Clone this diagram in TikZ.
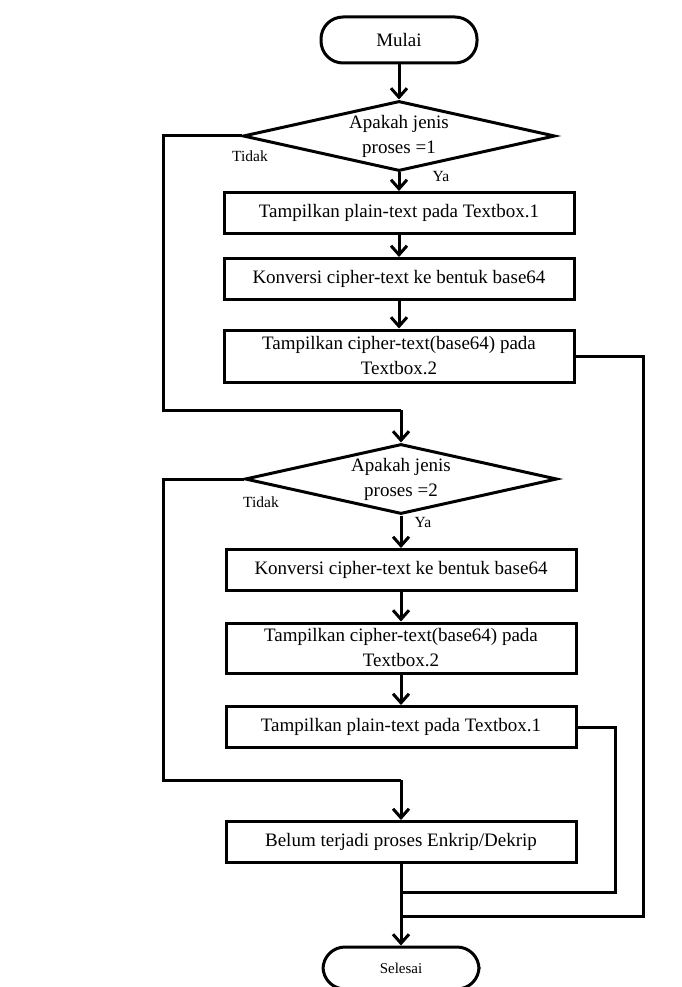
\documentclass[tikz,border=0pt]{standalone}
\usepackage{fontspec}
\setmainfont{Liberation Serif}
\usetikzlibrary{arrows.meta,shapes.geometric}
\begin{document}
\begin{tikzpicture}[x=1pt,y=-1pt,
  line width=3pt,
  arr/.style={-{Straight Barb[length=9pt,width=16pt,line width=3pt]}},
  term/.style={draw,rounded corners=22pt,minimum width=156pt,minimum height=46pt,font=\fontsize{19}{21}\selectfont,inner sep=0pt},
  proc/.style={draw,minimum width=350pt,minimum height=41pt,align=center,font=\fontsize{19}{25}\selectfont,inner sep=2pt},
  dec/.style={draw,diamond,aspect=4.4,minimum width=312pt,minimum height=70pt,inner sep=0pt,align=center,font=\fontsize{19}{25}\selectfont},
  lbl/.style={font=\fontsize{15.5}{17}\selectfont,inner sep=0pt}]
\useasboundingbox (0,0) rectangle (682,987);
\node[term] (mulai) at (399,40) {Mulai};
\node[dec] (d1) at (399,136) {Apakah jenis\\proses =1};
\node[proc] (b1) at (399,213) {Tampilkan plain-text pada Textbox.1};
\node[proc] (b2) at (399,279) {Konversi cipher-text ke bentuk base64};
\node[proc,minimum height=52pt] (b3) at (399,356) {Tampilkan cipher-text(base64) pada\\Textbox.2};
\node[dec] (d2) at (401,479) {Apakah jenis\\proses =2};
\node[proc] (b4) at (401,570) {Konversi cipher-text ke bentuk base64};
\node[proc,minimum height=50pt] (b5) at (401,648) {Tampilkan cipher-text(base64) pada\\Textbox.2};
\node[proc] (b6) at (401,727) {Tampilkan plain-text pada Textbox.1};
\node[proc] (b7) at (401,842) {Belum terjadi proses Enkrip/Dekrip};
\node[term,font=\fontsize{15}{17}\selectfont,minimum height=42pt,minimum width=156pt] (sel) at (401,968) {Selesai};
\node[lbl] (t1) at (250,156) {Tidak};
\node[lbl] (y1) at (441,177) {Ya};
\node[lbl] (t2) at (261,502) {Tidak};
\node[lbl] (y2) at (423,522) {Ya};
\coordinate (l1) at (163,136);
\coordinate (j1) at (401,410);
\coordinate (l2) at (163,479);
\coordinate (j2) at (401,780);
\coordinate (r1) at (643,356);
\coordinate (m2) at (401,916);
\coordinate (r2) at (615,727);
\coordinate (m1) at (401,892);
\draw[arr] (mulai) -- (d1);
\draw[arr] (d1) -- (b1);
\draw[arr] (b1) -- (b2);
\draw[arr] (b2) -- (b3);
\draw (d1.west) -- (l1) |- (j1);
\draw[arr] (j1) -- (d2.north);
\draw[arr] (d2) -- (b4);
\draw[arr] (b4) -- (b5);
\draw[arr] (b5) -- (b6);
\draw (d2.west) -- (l2) |- (j2);
\draw[arr] (j2) -- (b7);
\draw (b3.east) -- (r1) |- (m2);
\draw (b6.east) -- (r2) |- (m1);
\draw[arr] (b7) -- (sel);
\end{tikzpicture}
\end{document}
